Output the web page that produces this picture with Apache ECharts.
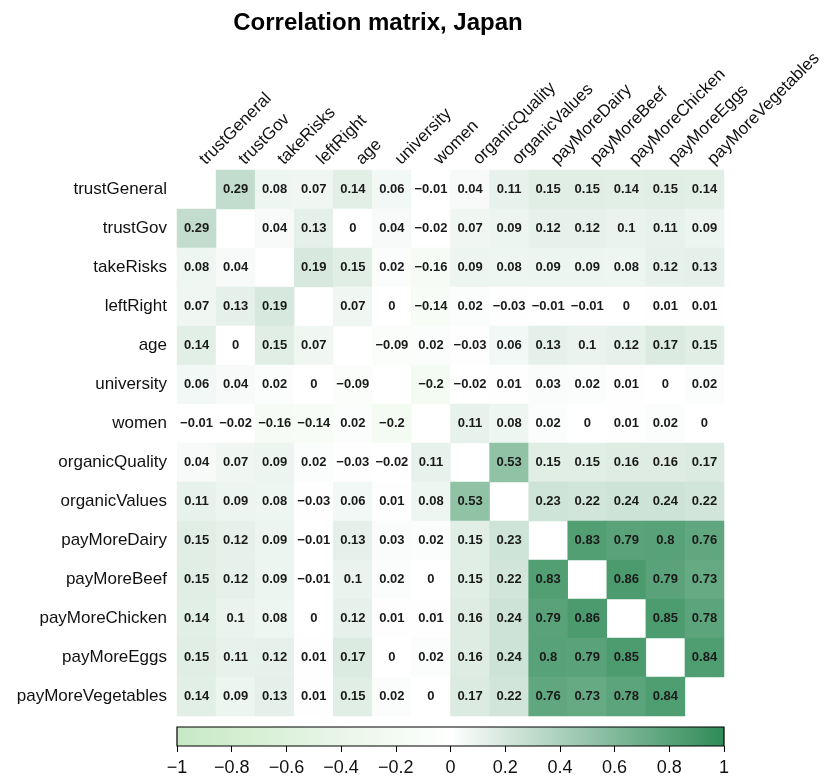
<!DOCTYPE html>
<html>
<head>
<meta charset="utf-8">
<script src="https://cdn.jsdelivr.net/npm/echarts@6/dist/echarts.min.js"></script>
<style>
  html, body { margin: 0; padding: 0; background: #fff; }
  #main { width: 827px; height: 780px; }
</style>
</head>
<body>
<div id="main"></div>
<script>
var variables = [
  "trustGeneral", "trustGov", "takeRisks", "leftRight", "age", "university",
  "women", "organicQuality", "organicValues", "payMoreDairy", "payMoreBeef",
  "payMoreChicken", "payMoreEggs", "payMoreVegetables"
];

// one row per variable, null on the diagonal
var corr = [
  [null, 0.29, 0.08, 0.07, 0.14, 0.06, -0.01, 0.04, 0.11, 0.15, 0.15, 0.14, 0.15, 0.14],
  [0.29, null, 0.04, 0.13, 0, 0.04, -0.02, 0.07, 0.09, 0.12, 0.12, 0.1, 0.11, 0.09],
  [0.08, 0.04, null, 0.19, 0.15, 0.02, -0.16, 0.09, 0.08, 0.09, 0.09, 0.08, 0.12, 0.13],
  [0.07, 0.13, 0.19, null, 0.07, 0, -0.14, 0.02, -0.03, -0.01, -0.01, 0, 0.01, 0.01],
  [0.14, 0, 0.15, 0.07, null, -0.09, 0.02, -0.03, 0.06, 0.13, 0.1, 0.12, 0.17, 0.15],
  [0.06, 0.04, 0.02, 0, -0.09, null, -0.2, -0.02, 0.01, 0.03, 0.02, 0.01, 0, 0.02],
  [-0.01, -0.02, -0.16, -0.14, 0.02, -0.2, null, 0.11, 0.08, 0.02, 0, 0.01, 0.02, 0],
  [0.04, 0.07, 0.09, 0.02, -0.03, -0.02, 0.11, null, 0.53, 0.15, 0.15, 0.16, 0.16, 0.17],
  [0.11, 0.09, 0.08, -0.03, 0.06, 0.01, 0.08, 0.53, null, 0.23, 0.22, 0.24, 0.24, 0.22],
  [0.15, 0.12, 0.09, -0.01, 0.13, 0.03, 0.02, 0.15, 0.23, null, 0.83, 0.79, 0.8, 0.76],
  [0.15, 0.12, 0.09, -0.01, 0.1, 0.02, 0, 0.15, 0.22, 0.83, null, 0.86, 0.79, 0.73],
  [0.14, 0.1, 0.08, 0, 0.12, 0.01, 0.01, 0.16, 0.24, 0.79, 0.86, null, 0.85, 0.78],
  [0.15, 0.11, 0.12, 0.01, 0.17, 0, 0.02, 0.16, 0.24, 0.8, 0.79, 0.85, null, 0.84],
  [0.14, 0.09, 0.13, 0.01, 0.15, 0.02, 0, 0.17, 0.22, 0.76, 0.73, 0.78, 0.84, null]
];

var scaleColors = ["#c7e9c4", "#ffffff", "#2e8b57"];

var cells = [];
corr.forEach(function (row, y) {
  row.forEach(function (v, x) {
    if (v !== null) cells.push([x, y, v]);
  });
});

function fmt(v) {
  return v < 0 ? "\u2212" + String(-v) : String(v);
}

var font = "Liberation Sans, Arial, sans-serif";
var chart = echarts.init(document.getElementById("main"));

chart.setOption({
  backgroundColor: "#fff",
  animation: false,
  title: {
    text: "Correlation matrix, Japan",
    left: 373,
    top: 6,
    textAlign: "center",
    textStyle: { fontFamily: font, fontSize: 24, fontWeight: "bold", color: "#000" }
  },
  grid: [
    { left: 177, top: 170, width: 547, height: 546 },
    {
      left: 177, top: 727, width: 547, height: 19, show: true,
      borderColor: "#000", borderWidth: 1.2,
      backgroundColor: new echarts.graphic.LinearGradient(0, 0, 1, 0, [
        { offset: 0, color: scaleColors[0] },
        { offset: 0.5, color: scaleColors[1] },
        { offset: 1, color: scaleColors[2] }
      ])
    }
  ],
  xAxis: [
    {
      type: "category",
      data: variables,
      position: "top",
      gridIndex: 0,
      axisLine: { show: false },
      axisTick: { show: false },
      splitLine: { show: false },
      axisLabel: {
        rotate: -45,
        interval: 0,
        margin: 14,
        verticalAlign: "top",
        fontFamily: font,
        fontSize: 17,
        color: "#111"
      }
    },
    {
      type: "value",
      gridIndex: 1,
      min: -1,
      max: 1,
      interval: 0.2,
      position: "bottom",
      splitLine: { show: false },
      axisLine: { show: false },
      axisTick: { show: true, length: 6, lineStyle: { color: "#000" } },
      axisLabel: {
        margin: 13,
        fontFamily: font,
        fontSize: 18,
        color: "#111",
        formatter: function (v) { return fmt(Math.round(v * 10) / 10); }
      }
    }
  ],
  yAxis: [
    {
      type: "category",
      data: variables,
      inverse: true,
      gridIndex: 0,
      axisLine: { show: false },
      axisTick: { show: false },
      splitLine: { show: false },
      axisLabel: {
        margin: 10,
        fontFamily: font,
        fontSize: 17,
        color: "#111"
      }
    },
    { type: "value", gridIndex: 1, show: false, min: 0, max: 1 }
  ],
  visualMap: {
    show: false,
    seriesIndex: 0,
    min: -1,
    max: 1,
    inRange: { color: scaleColors }
  },
  series: [
    {
      type: "heatmap",
      xAxisIndex: 0,
      yAxisIndex: 0,
      data: cells,
      label: {
        show: true,
        fontFamily: font,
        fontSize: 13,
        fontWeight: "bold",
        color: "#1a1a1a",
        formatter: function (p) { return fmt(p.value[2]); }
      },
      itemStyle: { borderWidth: 0 }
    }
  ]
});
</script>
</body>
</html>
